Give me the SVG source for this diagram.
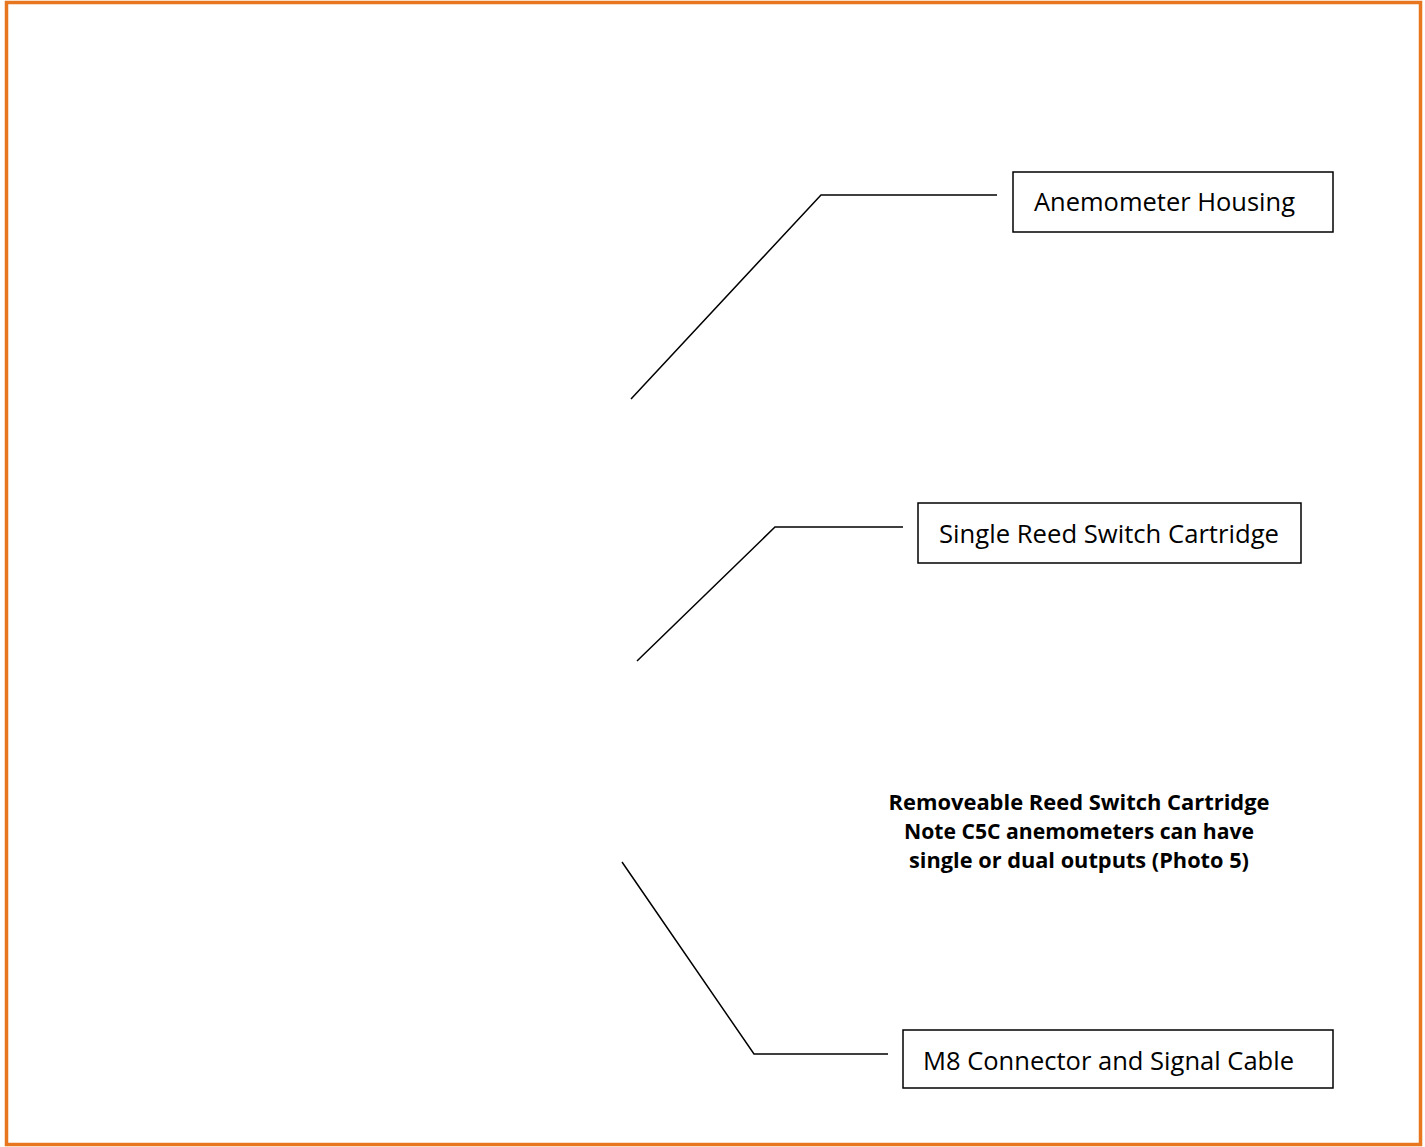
<svg xmlns="http://www.w3.org/2000/svg" width="1425" height="1147" viewBox="0 0 1425 1147">
<style>
.frame{fill:#fff;stroke:#E8761E;stroke-width:3.5}
.box{fill:#fff;stroke:#000;stroke-width:1.5}
.lbl{font-family:"Open Sans","Liberation Sans",sans-serif;font-size:26px;fill:#000}
.note{font-family:"Open Sans","Liberation Sans",sans-serif;font-size:21px;font-weight:bold;fill:#000;text-anchor:middle}
.conn{fill:none;stroke:#000;stroke-width:1.5}
</style>
<rect class="frame" x="6.5" y="2.5" width="1414" height="1142"/>
<g id="connectors">
<polyline class="conn" points="631,399 821,195 997,195"/>
<polyline class="conn" points="637,661 775,527 903,527"/>
<polyline class="conn" points="622,862 754,1054 888,1054"/>
</g>
<g id="anemometer-housing">
<rect class="box" x="1013" y="172" width="320" height="60"/>
<text class="lbl" x="1034" y="211" textLength="261" lengthAdjust="spacingAndGlyphs">Anemometer Housing</text>
</g>
<g id="single-reed">
<rect class="box" x="918" y="503" width="383" height="60"/>
<text class="lbl" x="939" y="543" textLength="340" lengthAdjust="spacingAndGlyphs">Single Reed Switch Cartridge</text>
</g>
<g id="m8-connector">
<rect class="box" x="903" y="1030" width="430" height="58"/>
<text class="lbl" x="923" y="1070" textLength="371" lengthAdjust="spacingAndGlyphs">M8 Connector and Signal Cable</text>
</g>
<g id="note">
<text class="note" x="1079" y="810" textLength="381" lengthAdjust="spacingAndGlyphs">Removeable Reed Switch Cartridge</text>
<text class="note" x="1079" y="839" textLength="350" lengthAdjust="spacingAndGlyphs">Note C5C anemometers can have</text>
<text class="note" x="1079" y="868" textLength="340" lengthAdjust="spacingAndGlyphs">single or dual outputs (Photo 5)</text>
</g>
</svg>
